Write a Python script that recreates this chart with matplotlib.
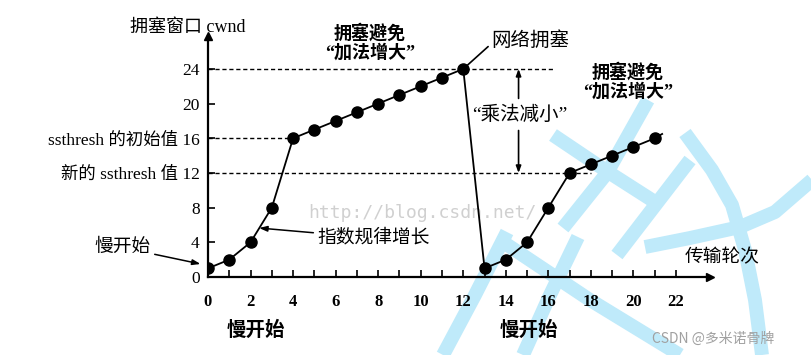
import matplotlib
matplotlib.use("Agg")
import matplotlib.pyplot as plt

# ---- data ----
rounds = list(range(0, 22))
cwnd = [1, 2, 4, 8, 16, 17, 18, 19, 20, 21, 22, 23, 24,
        1, 2, 4, 8, 12, 13, 14, 15, 16]
ssthresh_init = 16
ssthresh_new = 12
peak = 24
ytick_vals = [0, 4, 8, 12, 16, 20, 24]
ytick_labels = ["0", "4", "8", "新的 ssthresh 值 12", "ssthresh 的初始值 16", "20", "24"]
xtick_major = list(range(0, 23, 2))
xtick_minor = list(range(1, 23, 2))

FAM = ["Liberation Serif", "Noto Sans CJK SC", "DejaVu Sans"]
plt.rcParams["font.family"] = FAM

fig = plt.figure(figsize=(8.12, 3.55), dpi=100)

# background watermark strokes (decorative, in pixel space)
bg = fig.add_axes([0, 0, 1, 1], zorder=-1)
bg.set_xlim(0, 812)
bg.set_ylim(355, 0)
bg.axis("off")
wm_color = "#bfeafa"
strokes = [
    [(648, 100), (607, 173), (563, 228)],
    [(578, 237), (550, 295), (523, 355)],
    [(507, 232), (475, 295), (443, 355)],
    [(553, 135), (605, 170), (655, 202)],
    [(500, 240), (590, 300), (680, 355)],
    [(685, 133), (712, 170), (732, 205), (745, 250), (755, 300), (762, 355)],
    [(812, 180), (775, 212), (740, 227), (690, 238), (645, 247)],
    [(690, 160), (617, 255)],
]
for st in strokes:
    xs = [p[0] for p in st]
    ys = [p[1] for p in st]
    bg.plot(xs, ys, color=wm_color, lw=10, solid_capstyle="butt", solid_joinstyle="round")

ax = fig.add_axes([208 / 812, 78 / 355, 502 / 812, 241 / 355])
ax.patch.set_visible(False)
ax.set_xlim(0, 23.6)
ax.set_ylim(0, 27.8)

for s in ["top", "right"]:
    ax.spines[s].set_visible(False)
for s in ["left", "bottom"]:
    ax.spines[s].set_linewidth(1.6)
ax.plot(1, 0, ">k", markersize=6, transform=ax.transAxes, clip_on=False)
ax.plot(0, 1, "^k", markersize=6, transform=ax.transAxes, clip_on=False)

# dashed reference lines
dash = (0, (3, 2))
ax.plot([0, 16.2], [peak, peak], color="k", lw=1, ls=dash)
ax.plot([0, 4], [ssthresh_init, ssthresh_init], color="k", lw=1, ls=dash)
ax.plot([0, 18], [ssthresh_new, ssthresh_new], color="k", lw=1, ls=dash)

# main curve
ax.plot(rounds, cwnd, color="k", lw=1.3, marker="o", markersize=8, zorder=3)
ax.plot([rounds[-1], rounds[-1] + 0.35], [cwnd[-1], cwnd[-1] + 0.5], color="k", lw=1.3)

# ticks
ax.set_xticks(xtick_major)
ax.set_xticklabels([str(v) for v in xtick_major], fontsize=12, fontweight="bold")
ax.set_xticks(xtick_minor, minor=True)
ax.tick_params(axis="x", which="both", direction="in", length=5, width=1.2, pad=12)
ax.set_yticks(ytick_vals)
ax.set_yticklabels(ytick_labels, fontsize=12.5)
ax.tick_params(axis="y", direction="in", length=5, width=1.2, pad=6)

# texts
ax.text(-0.94, 28.8, "拥塞窗口 cwnd", ha="center", va="center", fontsize=13,
        clip_on=False)
ax.text(7.6, 27.0, "拥塞避免\n“加法增大”", ha="center", va="center", fontsize=13,
        fontweight="bold", linespacing=1.1, clip_on=False)
ax.text(19.75, 22.5, "拥塞避免\n“加法增大”", ha="center", va="center", fontsize=13,
        fontweight="bold", linespacing=1.1, clip_on=False)
ax.annotate("网络拥塞", xy=(12, peak), xytext=(13.3, 27.3), ha="left", va="center",
            fontsize=14, annotation_clip=False,
            arrowprops=dict(arrowstyle="-", color="k", lw=1.2, shrinkA=0, shrinkB=0,
                            relpos=(0, 0.3)))
ax.text(14.67, 18.7, "“乘法减小”", ha="center", va="center", fontsize=14)
ax.annotate("", xy=(14.6, peak), xytext=(14.6, 20.6),
            arrowprops=dict(arrowstyle="-|>,head_width=0.15,head_length=0.4",
                            color="k", lw=1.2, shrinkA=0, shrinkB=0))
ax.annotate("", xy=(14.6, ssthresh_new), xytext=(14.6, 16.9),
            arrowprops=dict(arrowstyle="-|>,head_width=0.15,head_length=0.4",
                            color="k", lw=1.2, shrinkA=0, shrinkB=0))
ax.annotate("慢开始", xy=(-0.35, 1.5), xytext=(-2.7, 3.4), ha="right", va="center",
            fontsize=13.5, annotation_clip=False,
            arrowprops=dict(arrowstyle="-|>,head_width=0.12,head_length=0.35",
                            color="k", lw=1.1, shrinkA=1, shrinkB=0))
ax.annotate("指数规律增长", xy=(2.4, 5.65), xytext=(5.15, 4.5), ha="left", va="center",
            fontsize=13.5, annotation_clip=False,
            arrowprops=dict(arrowstyle="-|>,head_width=0.12,head_length=0.35",
                            color="k", lw=1.1, shrinkA=1, shrinkB=0))
ax.text(22.4, 2.2, "传输轮次", ha="left", va="center", fontsize=13.5, clip_on=False)
ax.text(2.26, -6.1, "慢开始", ha="center", va="center", fontsize=14,
        fontweight="bold", clip_on=False)
ax.text(15.1, -6.1, "慢开始", ha="center", va="center", fontsize=14,
        fontweight="bold", clip_on=False)
ax.text(4.7, 7.4, "http://blog.csdn.net/", ha="left", va="center", fontsize=13,
        family="DejaVu Sans Mono", color="#d0d0d0", zorder=0)
fig.text(652 / 812, 1 - 339 / 355, "CSDN @多米诺骨牌", ha="left", va="center",
         fontsize=10, color="#a0a0a0", family=["Noto Sans CJK SC", "DejaVu Sans"])

fig.savefig("out.png", dpi=100)
